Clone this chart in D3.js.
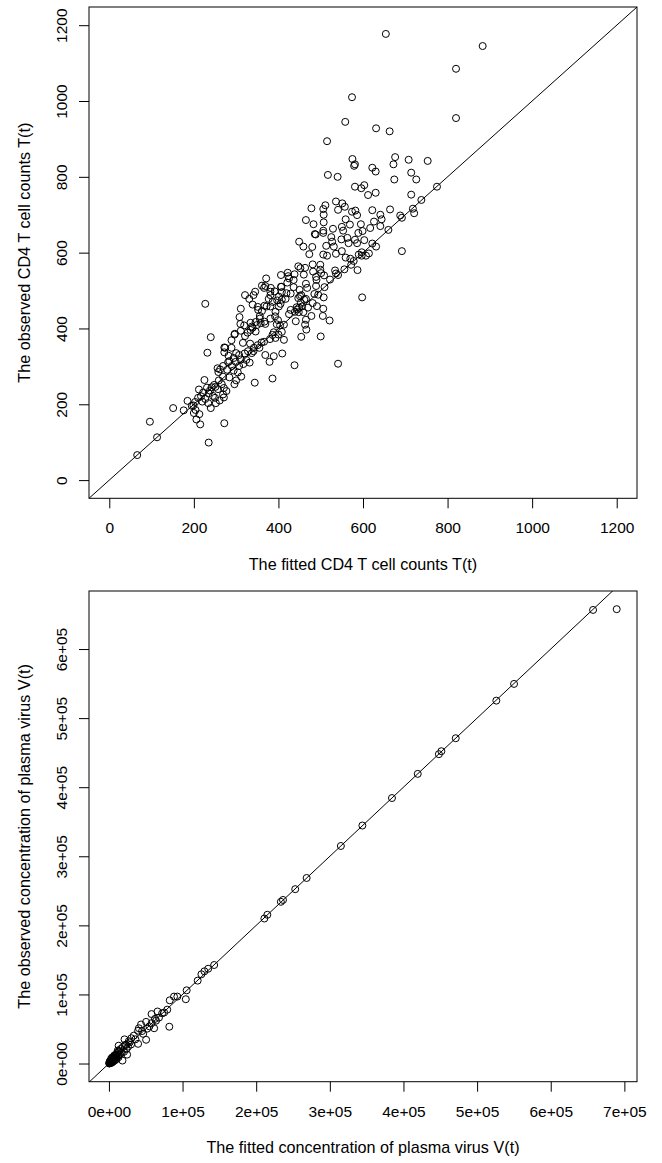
<!DOCTYPE html>
<html>

<head>
  <meta charset="utf8">
  <script src="https://d3js.org/d3.v7.min.js"></script>
  <style>
    body {
      margin: 0;
      background: #fff;
    }

    svg text {
      font-family: "Liberation Sans", Arial, sans-serif;
      font-size: 15.5px;
      fill: #000;
    }

    svg text.title {
      font-size: 16.2px;
    }

    .pt {
      fill: none;
      stroke: #000;
      stroke-width: 1;
    }

    .frame {
      fill: none;
      stroke: #000;
      stroke-width: 1;
    }

    .diag {
      stroke: #000;
      stroke-width: 1;
    }

    .axis line {
      stroke: #000;
    }

    .axis .domain {
      display: none;
    }
  </style>
</head>

<body>
  <svg id="chart" width="662" height="1163"></svg>

  <script>
    // CD4 T cell counts: fitted vs observed
    var fittedT = [
      654, 883, 820, 820, 574, 558, 631, 663, 515, 676, 708, 753, 575, 581, 579, 672, 622, 630, 714, 517,
      540, 674, 726, 775, 581, 596, 603, 612, 630, 714, 738, 718, 721, 664, 622, 536, 551, 557, 541, 511,
      506, 478, 465, 483, 507, 507, 550, 569, 582, 586, 574, 595, 559, 641, 644, 626, 641, 688, 692, 660,
      617, 599, 589, 553, 529, 506, 488, 486, 506, 525, 527, 531, 513, 549, 563, 566, 581, 586, 603, 622,
      631, 614, 597, 597, 607, 590, 550, 536, 515, 506, 480, 459, 473, 449, 559, 570, 578, 572, 556, 587,
      534, 536, 541, 522, 509, 499, 499, 481, 463, 447, 460, 465, 489, 490, 489, 485, 494, 491, 507, 506,
      505, 521, 500, 478, 465, 454, 466, 463, 459, 470, 481, 465, 454, 450, 447, 449, 456, 444, 439, 441,
      438, 541, 598, 692, 436, 429, 423, 425, 421, 406, 408, 401, 417, 405, 397, 391, 382, 371, 361, 366,
      381, 377, 386, 372, 367, 351, 339, 311, 308, 337, 349, 358, 367, 369, 356, 381, 392, 399, 396, 404,
      413, 408, 400, 389, 386, 393, 380, 366, 360, 355, 351, 346, 334, 327, 311, 321, 289, 297, 316, 333,
      342, 328, 337, 320, 307, 300, 289, 274, 272, 282, 294, 284, 299, 311, 324, 332, 317, 307, 290, 281,
      269, 262, 279, 294, 304, 312, 300, 296, 284, 269, 256, 258, 259, 266, 271, 269, 271, 277, 257, 248,
      251, 242, 238, 235, 225, 231, 222, 212, 217, 210, 220, 227, 234, 240, 252, 250, 261, 245, 203, 199,
      195, 204, 213, 206, 215, 200, 185, 176, 151, 96, 113, 66, 235, 272, 227, 240, 232, 272, 344, 386,
      409, 413, 379, 389, 369, 448, 339, 319, 341, 310, 296, 334, 346, 356, 361, 381, 401, 393, 425, 429,
      443, 453, 461, 451, 468, 482, 501, 508, 452, 438, 436, 406, 422, 408, 407, 419, 381, 369, 345, 352,
      341, 331, 321
    ];
    var observedT = [
      1177, 1145, 1085, 955, 1010, 945, 928, 920, 894, 852, 845, 842, 847, 833, 829, 833, 824, 814, 811, 805,
      800, 793, 793, 774, 774, 770, 778, 752, 758, 753, 739, 716, 704, 714, 712, 735, 730, 721, 713, 725,
      715, 717, 686, 675, 700, 680, 668, 674, 711, 699, 708, 675, 688, 700, 688, 682, 670, 698, 692, 660,
      665, 657, 652, 658, 663, 658, 648, 649, 652, 641, 629, 616, 618, 635, 639, 625, 634, 625, 633, 624,
      616, 598, 592, 601, 592, 595, 604, 597, 592, 595, 615, 616, 596, 629, 587, 584, 578, 568, 556, 554,
      553, 545, 541, 529, 509, 555, 568, 569, 560, 564, 542, 518, 536, 528, 512, 491, 489, 459, 482, 452,
      433, 421, 379, 433, 423, 378, 397, 410, 443, 455, 467, 478, 488, 502, 480, 455, 458, 450, 444, 419,
      303, 307, 482, 604, 509, 492, 538, 532, 521, 510, 496, 484, 478, 465, 474, 498, 507, 532, 513, 507,
      488, 478, 470, 458, 460, 457, 463, 452, 430, 405, 409, 414, 418, 412, 426, 426, 432, 422, 411, 408,
      410, 391, 384, 390, 383, 375, 372, 365, 363, 349, 356, 392, 396, 389, 394, 380, 369, 386, 362, 360,
      349, 340, 335, 334, 330, 335, 349, 349, 337, 328, 322, 314, 312, 318, 317, 310, 306, 301, 301, 311,
      301, 292, 291, 289, 284, 273, 263, 253, 271, 273, 295, 285, 263, 253, 243, 226, 218, 235, 240, 251,
      246, 245, 236, 229, 264, 244, 231, 239, 221, 217, 207, 214, 203, 190, 203, 217, 210, 222, 206, 197,
      196, 185, 174, 160, 147, 177, 209, 184, 190, 154, 113, 66, 99, 150, 465, 377, 336, 350, 257, 268,
      334, 370, 312, 327, 330, 443, 402, 408, 340, 412, 384, 415, 417, 433, 446, 458, 458, 444, 438, 449,
      456, 468, 476, 485, 507, 550, 546, 540, 559, 543, 528, 541, 547, 476, 510, 493, 497, 512, 497, 449,
      488, 478, 488
    ];
    var tTicks = [0, 200, 400, 600, 800, 1000, 1200];
    var tLimits = [0, 1200];

    // plasma virus concentration: fitted vs observed
    var fittedV = [
      657500, 689600, 550200, 526100, 471000, 451500, 448100, 419400, 384400, 344200,
      315000, 268500, 253000, 236400, 233500, 215100, 211100, 142900, 134800, 129700,
      125600, 120500, 105600, 104400, 92900, 88400, 82600, 82000, 79200, 72300,
      66000, 57900, 62500, 61400, 50500, 50500, 43600, 40700, 39600, 39600,
      33800, 30400, 27000, 21200, 23500, 24700, 18400, 13200, 12000, 46500,
      55000, 68000, 75000, 36000, 45000, 52000, 58000, 64000,
      500, 800, 1200, 1500, 2000, 2300, 2800, 3100, 3500, 4000,
      4200, 4800, 5200, 5600, 6000, 6500, 7000, 7400, 8000, 8500,
      9000, 9600, 10200, 11000, 11800, 12500, 13500, 14200, 15000, 16000,
      17500, 19000, 20500, 22000, 24000, 26000, 28000, 30000, 1000, 2500,
      3800, 5500, 6800, 9000, 3000, 4500, 7500, 10500, 13000, 600,
      1800, 3300
    ];
    var observedV = [
      656600, 657700, 549500, 525300, 470900, 452100, 447800, 419300, 384300, 344500,
      314900, 268600, 252400, 236800, 234100, 215300, 209900, 142600, 137200, 133500,
      129200, 120000, 106000, 93100, 96900, 96900, 91500, 53300, 78000, 72700,
      75300, 71600, 64600, 51100, 60300, 34400, 56500, 51100, 47400, 28500,
      40400, 36600, 32300, 35000, 26900, 12900, 4300, 25800, 18800, 43000,
      53800, 66500, 73800, 35000, 47000, 50500, 58500, 62000,
      0, 1500, 600, 2600, 1800, 3400, 2500, 4200, 3300, 5500,
      4000, 6400, 4700, 7500, 5800, 8300, 6500, 9800, 7200, 11000,
      8400, 12500, 9500, 14800, 10800, 16500, 12000, 18000, 13500, 21000,
      15500, 24000, 17000, 27000, 21000, 24500, 30500, 27500, 3000, 800,
      1200, 2500, 3800, 5200, 7000, 9000, 12000, 7000, 9000, 300,
      1100, 2000
    ];
    var vxTicks = [0, 1e5, 2e5, 3e5, 4e5, 5e5, 6e5, 7e5];
    var vyTicks = [0, 1e5, 2e5, 3e5, 4e5, 5e5, 6e5];

    var chart = d3.select('#chart');

    // R style: extend the limits by 4% on each side
    function pad(ext) {
      var r = ext[1] - ext[0];
      return [ext[0] - 0.04 * r, ext[1] + 0.04 * r];
    }

    function sci(d) {
      var parts = d.toExponential(0).split('e');
      var e = parts[1];
      return parts[0] + 'e' + e[0] + e.slice(1).padStart(2, '0');
    }

    function drawPanel(p) {
      var x = d3.scaleLinear().domain(p.xDomain).range([p.left, p.right]);
      var y = d3.scaleLinear().domain(p.yDomain).range([p.bottom, p.top]);
      var g = chart.append('g');

      var clipId = 'clip-' + p.id;
      g.append('clipPath').attr('id', clipId)
        .append('rect')
        .attr('x', p.left).attr('y', p.top)
        .attr('width', p.right - p.left).attr('height', p.bottom - p.top);

      // x axis
      g.append('g')
        .attr('class', 'axis')
        .attr('transform', 'translate(0,' + p.bottom + ')')
        .call(d3.axisBottom(x).tickValues(p.xTicks).tickFormat(p.fmt)
          .tickSize(10).tickSizeOuter(0).tickPadding(14))
        .call(function (a) { a.selectAll('text').attr('fill', '#000'); });

      // y axis, labels parallel to the axis
      g.append('g')
        .attr('class', 'axis')
        .attr('transform', 'translate(' + p.left + ',0)')
        .call(d3.axisLeft(y).tickValues(p.yTicks).tickFormat(p.fmt)
          .tickSize(10).tickSizeOuter(0))
        .call(function (a) {
          a.selectAll('text')
            .attr('fill', '#000')
            .attr('transform', 'rotate(-90)')
            .attr('x', 0)
            .attr('y', -22.5)
            .attr('dy', null)
            .attr('text-anchor', 'middle');
        });

      g.append('rect')
        .attr('class', 'frame')
        .attr('x', p.left).attr('y', p.top)
        .attr('width', p.right - p.left).attr('height', p.bottom - p.top);

      // identity line y = x
      var lo = Math.min(p.xDomain[0], p.yDomain[0]);
      var hi = Math.max(p.xDomain[1], p.yDomain[1]);
      g.append('line')
        .attr('class', 'diag')
        .attr('clip-path', 'url(#' + clipId + ')')
        .attr('x1', x(lo)).attr('y1', y(lo))
        .attr('x2', x(hi)).attr('y2', y(hi));

      g.append('g')
        .attr('clip-path', 'url(#' + clipId + ')')
        .selectAll('circle')
        .data(p.xs.map(function (v, i) { return [v, p.ys[i]]; }))
        .join('circle')
        .attr('class', 'pt')
        .attr('cx', function (d) { return x(d[0]); })
        .attr('cy', function (d) { return y(d[1]); })
        .attr('r', 3.5);

      g.append('text')
        .attr('class', 'title')
        .attr('x', (p.left + p.right) / 2)
        .attr('y', p.bottom + 71.5)
        .attr('text-anchor', 'middle')
        .text(p.xTitle);

      g.append('text')
        .attr('class', 'title')
        .attr('transform', 'translate(' + (p.left - 59) + ',' + ((p.top + p.bottom) / 2) + ') rotate(-90)')
        .attr('text-anchor', 'middle')
        .text(p.yTitle);
    }

    drawPanel({
      id: 'cd4',
      xs: fittedT, ys: observedT,
      xDomain: pad(tLimits), yDomain: pad(tLimits),
      xTicks: tTicks, yTicks: tTicks,
      fmt: d3.format('d'),
      left: 89, right: 637, top: 7, bottom: 498.3,
      xTitle: 'The fitted CD4 T cell counts T(t)',
      yTitle: 'The observed CD4 T cell counts T(t)'
    });

    drawPanel({
      id: 'virus',
      xs: fittedV, ys: observedV,
      xDomain: pad(d3.extent(fittedV)), yDomain: pad(d3.extent(observedV)),
      xTicks: vxTicks, yTicks: vyTicks,
      fmt: sci,
      left: 89, right: 637, top: 591, bottom: 1081.7,
      xTitle: 'The fitted concentration of plasma virus V(t)',
      yTitle: 'The observed concentration of plasma virus V(t)'
    });
  </script>
</body>

</html>
